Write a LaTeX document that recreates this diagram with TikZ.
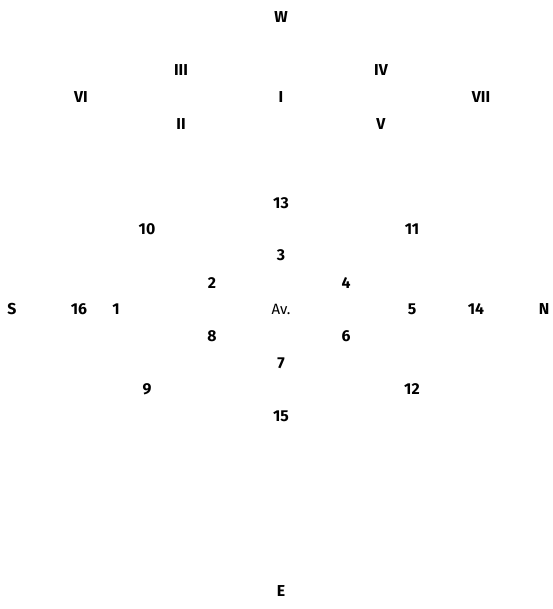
\documentclass[tikz,border=0pt]{standalone}
\usepackage{fontspec}
\setmainfont{Fira Sans}
\usepackage{tikz}
\usetikzlibrary{positioning}

\begin{document}
\begin{tikzpicture}[
  lbl/.style={inner sep=0pt, font=\fontsize{9}{10}\selectfont\bfseries},
  av/.style={inner sep=0pt, font=\fontsize{8.5}{10}\selectfont}
]
  \useasboundingbox (0,0) rectangle (11.06,-12.18);

  % cardinal points
  \node[lbl] (w) at (5.62,-0.34) {W};
  \node[lbl] (s) at (0.24,-6.18) {S};
  \node[lbl] (n) at (10.88,-6.18) {N};
  \node[lbl] (e) at (5.62,-11.82) {E};

  % roman numerals
  \node[lbl] (r3) at (3.62,-1.40) {III};
  \node[lbl] (r4) at (7.62,-1.40) {IV};
  \node[lbl] (r6) at (1.62,-1.94) {VI};
  \node[lbl] (r1) at (5.62,-1.94) {I};
  \node[lbl] (r7) at (9.62,-1.94) {VII};
  \node[lbl] (r2) at (3.62,-2.48) {II};
  \node[lbl] (r5) at (7.62,-2.48) {V};

  % numbered positions
  \node[lbl] (p13) at (5.62,-4.06) {13};
  \node[lbl] (p10) at (2.94,-4.58) {10};
  \node[lbl] (p11) at (8.24,-4.58) {11};
  \node[lbl] (p3)  at (5.62,-5.10) {3};
  \node[lbl] (p2)  at (4.24,-5.66) {2};
  \node[lbl] (p4)  at (6.92,-5.66) {4};
  \node[lbl] (p16) at (1.58,-6.18) {16};
  \node[lbl] (p1)  at (2.32,-6.18) {1};
  \node[av]  (av)  at (5.62,-6.18) {Av.};
  \node[lbl] (p5)  at (8.24,-6.18) {5};
  \node[lbl] (p14) at (9.52,-6.18) {14};
  \node[lbl] (p8)  at (4.24,-6.72) {8};
  \node[lbl] (p6)  at (6.92,-6.72) {6};
  \node[lbl] (p7)  at (5.62,-7.26) {7};
  \node[lbl] (p9)  at (2.94,-7.78) {9};
  \node[lbl] (p12) at (8.24,-7.78) {12};
  \node[lbl] (p15) at (5.62,-8.32) {15};
\end{tikzpicture}
\end{document}
